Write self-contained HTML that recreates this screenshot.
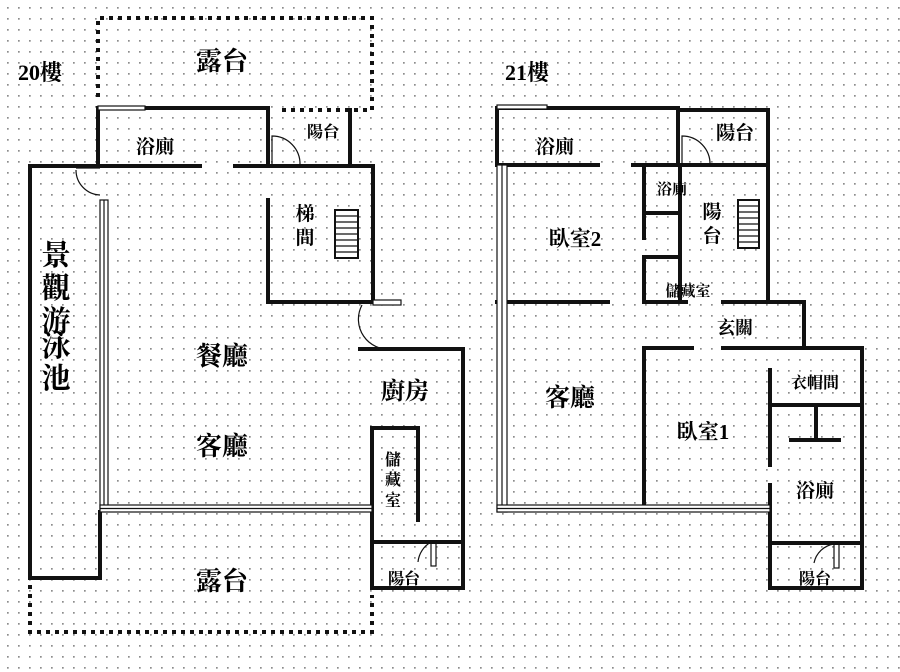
<!DOCTYPE html>
<html><head><meta charset="utf-8"><style>
html,body{margin:0;padding:0;background:#fff;}
svg{display:block;}
text{font-family:"Liberation Serif","Noto Serif CJK SC","Noto Sans CJK TC",serif;font-weight:bold;fill:#000;}
</style></head><body>
<svg width="900" height="672" viewBox="0 0 900 672" xmlns="http://www.w3.org/2000/svg">
<defs>
<pattern id="d" width="11" height="11" patternUnits="userSpaceOnUse" x="3" y="3">
<rect x="4" y="4" width="1.7" height="1.7" fill="#8c8c8c"/>
</pattern>
</defs>
<rect width="900" height="672" fill="#fff"/>
<rect width="900" height="672" fill="url(#d)"/>

<g stroke="#111" stroke-width="4" fill="none" stroke-linecap="square">
<g stroke-dasharray="4 5" stroke-width="4" stroke-linecap="butt">
<path d="M98 97 V18 H372 V110 H280"/>
<path d="M30 585 V632 H372 V595"/>
</g>
<path d="M98 165 V108 H268 V165"/>
<path d="M350 110 V165"/>
<path d="M30 166 V578 H100 V512"/>
<path d="M30 166 H200"/>
<path d="M235 166 H373 V302"/>
<path d="M268 200 V302 H373"/>
<path d="M360 349 H463 V588 H372 V428 H418 V520"/>
<path d="M372 542 H463"/>
</g>
<g stroke="#111" stroke-width="1.2" fill="none">
<rect x="98" y="106" width="47" height="4" fill="#fff"/>
<rect x="100" y="200" width="8" height="310" fill="#fff"/>
<line x1="104" y1="200" x2="104" y2="510"/>
<rect x="100" y="505" width="272" height="7" fill="#fff"/>
<line x1="100" y1="508.5" x2="372" y2="508.5"/>
<rect x="373" y="300" width="28" height="5" fill="#fff"/>
<path d="M272 165 V136 A28 28 0 0 1 300 165"/>
<path d="M76 170 A25 25 0 0 0 100 195 M76 168 H100"/>
<path d="M362 305 A30 30 0 0 0 392 349"/>
<rect x="431" y="541" width="5" height="25"/>
<path d="M431 542 A26 26 0 0 0 418 562"/>
<rect x="335" y="210" width="23" height="48" fill="#fff" stroke-width="2"/>
<path d="M336 216 H357 M336 222 H357 M336 228 H357 M336 234 H357 M336 240 H357 M336 246 H357 M336 252 H357"/>
</g>

<g stroke="#111" stroke-width="4" fill="none" stroke-linecap="square">
<path d="M497 165 V108 H678 V165"/>
<path d="M678 110 H768 V302"/>
<path d="M497 165 H598"/>
<path d="M633 165 H768"/>
<path d="M644 165 V238"/>
<path d="M680 165 V300"/>
<path d="M644 213 H680"/>
<path d="M644 257 H680 M644 257 V302 H686"/>
<path d="M723 302 H804 V348"/>
<path d="M497 302 H608"/>
<path d="M644 348 H692"/>
<path d="M723 348 H862 V588 H770 V485"/>
<path d="M644 348 V503"/>
<path d="M770 370 V465"/>
<path d="M770 405 H862"/>
<path d="M816 405 V440 M791 440 H839"/>
<path d="M770 543 H862"/>
</g>
<g stroke="#111" stroke-width="1.2" fill="none">
<rect x="497" y="105" width="50" height="4" fill="#fff"/>
<rect x="497" y="165" width="10" height="347" fill="#fff"/>
<line x1="502" y1="165" x2="502" y2="512"/>
<rect x="497" y="505" width="273" height="7" fill="#fff"/>
<line x1="497" y1="508.5" x2="770" y2="508.5"/>
<path d="M682 165 V136 A28 28 0 0 1 710 165"/>
<rect x="834" y="543" width="5" height="25"/>
<path d="M834 544 A24 24 0 0 0 814 563"/>
<rect x="738" y="200" width="21" height="48" fill="#fff" stroke-width="2"/>
<path d="M739 206 H758 M739 212 H758 M739 218 H758 M739 224 H758 M739 230 H758 M739 236 H758 M739 242 H758"/>
</g>

<text x="18" y="80" font-size="22" font-weight="normal">20樓</text>
<text x="222" y="70" font-size="26" text-anchor="middle">露台</text>
<text x="155" y="153" font-size="19" text-anchor="middle">浴廁</text>
<text x="323" y="137" font-size="16" text-anchor="middle">陽台</text>
<text x="305" y="220" font-size="19" text-anchor="middle">梯</text>
<text x="305" y="244" font-size="19" text-anchor="middle">間</text>
<g font-size="29" text-anchor="middle">
<text x="56" y="265">景</text><text x="56" y="298">觀</text><text x="56" y="331">游</text><text x="56" y="356">泳</text><text x="56" y="388">池</text>
</g>
<text x="222" y="365" font-size="26" text-anchor="middle">餐廳</text>
<text x="222" y="455" font-size="26" text-anchor="middle">客廳</text>
<text x="405" y="399" font-size="24" text-anchor="middle">廚房</text>
<g font-size="16" text-anchor="middle"><text x="393" y="465">儲</text><text x="393" y="485">藏</text><text x="393" y="506">室</text></g>
<text x="404" y="584" font-size="16" text-anchor="middle">陽台</text>
<text x="222" y="590" font-size="26" text-anchor="middle">露台</text>

<text x="505" y="80" font-size="22" font-weight="normal">21樓</text>
<text x="555" y="153" font-size="19" text-anchor="middle">浴廁</text>
<text x="735" y="139" font-size="19" text-anchor="middle">陽台</text>
<text x="672" y="194" font-size="15" text-anchor="middle">浴廁</text>
<text x="712" y="218" font-size="19" text-anchor="middle">陽</text>
<text x="712" y="242" font-size="19" text-anchor="middle">台</text>
<text x="575" y="246" font-size="21" text-anchor="middle">臥室2</text>
<text x="688" y="296" font-size="15" text-anchor="middle">儲藏室</text>
<text x="735" y="334" font-size="18" text-anchor="middle">玄關</text>
<text x="570" y="406" font-size="25" text-anchor="middle">客廳</text>
<text x="703" y="439" font-size="21" text-anchor="middle">臥室1</text>
<text x="815" y="388" font-size="16" text-anchor="middle">衣帽間</text>
<text x="815" y="497" font-size="19" text-anchor="middle">浴廁</text>
<text x="815" y="584" font-size="16" text-anchor="middle">陽台</text>
</svg>
</body></html>
